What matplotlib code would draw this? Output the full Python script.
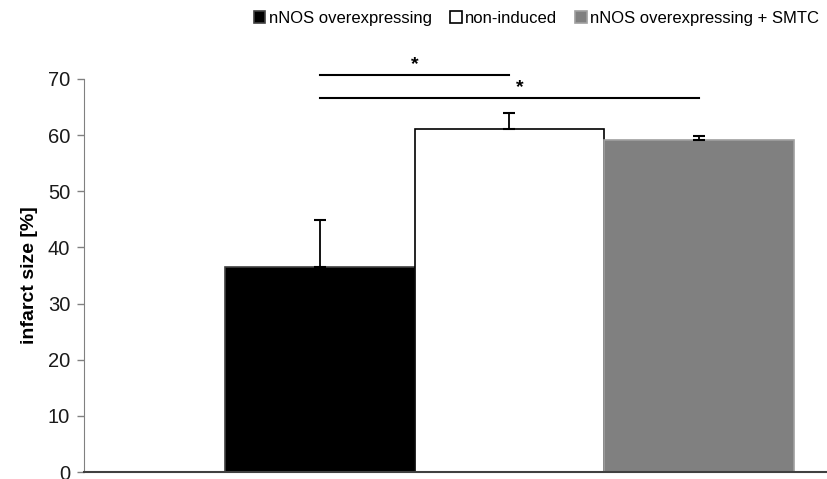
import matplotlib
matplotlib.use("Agg")
import matplotlib.pyplot as plt

plt.rcParams['font.family'] = ['Liberation Sans', 'DejaVu Sans']

groups = ["nNOS overexpressing", "non-induced", "nNOS overexpressing + SMTC"]
values = [36.6, 61.1, 59.1]
errors = [8.3, 2.9, 0.7]
colors = ["#000000", "#ffffff", "#808080"]
edges = ["#404040", "#000000", "#a0a0a0"]
positions = [-1, 0, 1]
sig_pairs = [(0, 1, 70.7), (0, 2, 66.6)]
star_shift = [0.0, 0.055]
yticks = [0, 10, 20, 30, 40, 50, 60, 70]

W, H = 828, 479
fig = plt.figure(figsize=(W / 100, H / 100), dpi=100)
ax = fig.add_axes([84 / W, 7 / H, (828 - 84) / W, 393 / H])

bars = []
for p, v, e, c, ec, g in zip(positions, values, errors, colors, edges, groups):
    b = ax.bar(p, v, width=1.0, color=c, edgecolor=ec, linewidth=1.2, label=g, zorder=2)
    bars.append(b)
    ax.errorbar(p, v, yerr=[[0], [e]], fmt='none', ecolor='black', elinewidth=1.3,
                capsize=4, capthick=1.5, zorder=3)

for (i, j, y), dx in zip(sig_pairs, star_shift):
    x1, x2 = positions[i], positions[j]
    ax.plot([x1, x2], [y, y], color='black', lw=1.5, clip_on=False, zorder=4)
    ax.text((x1 + x2) / 2 + dx, y + 0.4, "*", ha='center', va='bottom', fontsize=14,
            fontweight='bold', clip_on=False)

ax.set_xlim(-2.245, 1.681)
ax.set_ylim(0, 70)
ax.set_yticks(yticks)
ax.tick_params(axis='y', labelsize=14.5, length=5, width=1, color='#808080', pad=5, labelcolor='#1a1a1a')
ax.set_xticks([])
for s in ['top', 'right']:
    ax.spines[s].set_visible(False)
ax.spines['left'].set_color('#808080')
ax.spines['bottom'].set_color('#404040')
ax.spines['bottom'].set_linewidth(1.5)
ax.set_ylabel("infarct size [%]", fontsize=14, fontweight='bold', labelpad=7)

fig.legend(handles=bars, labels=groups, loc='upper right', bbox_to_anchor=(826 / W, 1 - 4 / H),
           ncol=3, frameon=False, fontsize=12, handlelength=0.7, handleheight=0.7,
           handletextpad=0.2, columnspacing=1.1, borderaxespad=0)

fig.savefig("out.png", dpi=100)
